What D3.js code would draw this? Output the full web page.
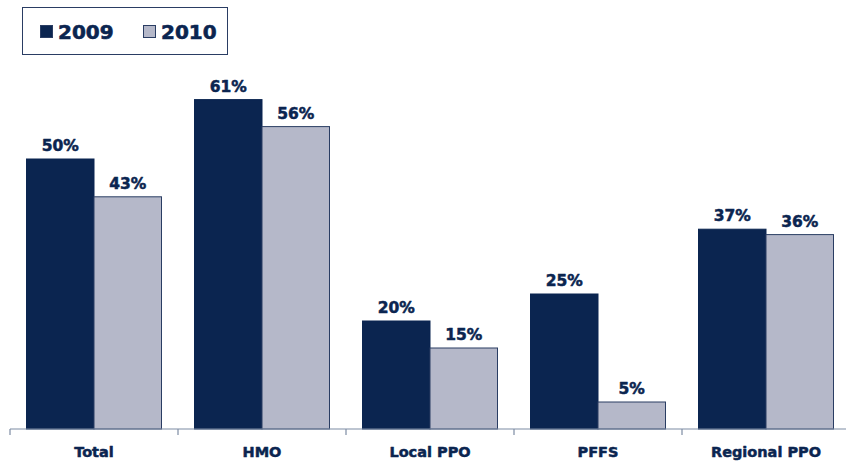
<!DOCTYPE html>
<html>
<head>
<meta charset="utf-8">
<script src="https://cdn.jsdelivr.net/npm/d3@7"></script>
<style>
  body { margin: 0; background: #fff; }
  svg { font-family: "DejaVu Sans", Verdana, sans-serif; font-weight: bold; }
  svg text { stroke-linejoin: round; }
</style>
</head>
<body>
<svg id="chart" width="846" height="466"></svg>
<script>
const categories = ["Total", "HMO", "Local PPO", "PFFS", "Regional PPO"];
const seriesNames = ["2009", "2010"];
const values2009 = [50, 61, 20, 25, 37];
const values2010 = [43, 56, 15, 5, 36];

const colors = { "2009": "#0b2550", "2010": "#b5b8c9" };
const textColor = "#0b2550";

const svg = d3.select("#chart");
const baseY = 429;

const x = d3.scaleBand().domain(categories).range([10, 850]).paddingInner(0).paddingOuter(0);
const xs = d3.scaleBand().domain(seriesNames).range([16.5, x.bandwidth() - 16.5]);
const y = d3.scaleLinear().domain([0, 70]).range([baseY, baseY - 5.4 * 70]);

const rows = categories.map((c, i) => ({ cat: c, vals: [
  { key: "2009", v: values2009[i] },
  { key: "2010", v: values2010[i] }
]}));

const groups = svg.selectAll("g.cat").data(rows).join("g")
  .attr("class", "cat")
  .attr("transform", d => `translate(${x(d.cat)},0)`);

groups.selectAll("rect").data(d => d.vals).join("rect")
  .attr("x", d => xs(d.key))
  .attr("y", d => y(d.v))
  .attr("width", xs.bandwidth())
  .attr("height", d => baseY - y(d.v))
  .attr("fill", d => colors[d.key])
  .attr("stroke", d => d.key === "2010" ? "#2a3d63" : "#0b2550")
  .attr("stroke-width", 1);

groups.selectAll("text.val").data(d => d.vals).join("text")
  .attr("class", "val")
  .attr("x", d => xs(d.key) + xs.bandwidth() / 2)
  .attr("y", d => y(d.v) - 8)
  .attr("text-anchor", "middle")
  .attr("font-size", 15.5)
  .attr("fill", textColor)
  .attr("stroke", textColor).attr("stroke-width", 0.5)
  .text(d => d.v + "%");

// x axis
const axis = svg.append("g").attr("transform", `translate(0,${baseY})`);
axis.append("line")
  .attr("x1", 10).attr("x2", 846)
  .attr("stroke", "#7d8ca3").attr("stroke-width", 1.2);
axis.selectAll("line.tick").data(categories.concat(["end"])).join("line")
  .attr("class", "tick")
  .attr("x1", (d, i) => 10 + i * x.bandwidth())
  .attr("x2", (d, i) => 10 + i * x.bandwidth())
  .attr("y1", 0).attr("y2", 6)
  .attr("stroke", "#7d8ca3").attr("stroke-width", 1.2);
axis.selectAll("text").data(categories).join("text")
  .attr("x", d => x(d) + x.bandwidth() / 2)
  .attr("y", 28)
  .attr("text-anchor", "middle")
  .attr("font-size", 14.5)
  .attr("fill", textColor)
  .attr("stroke", textColor).attr("stroke-width", 0.5)
  .text(d => d);

// legend
const legend = svg.append("g");
legend.append("rect")
  .attr("x", 22.5).attr("y", 7.5).attr("width", 205).attr("height", 47)
  .attr("fill", "#fff").attr("stroke", "#2a3d63").attr("stroke-width", 1);
const legItems = legend.selectAll("g").data(seriesNames).join("g")
  .attr("transform", (d, i) => `translate(${40 + i * 103},0)`);
legItems.append("rect")
  .attr("x", 0.5).attr("y", 25.5).attr("width", 12).attr("height", 12)
  .attr("fill", d => colors[d]).attr("stroke", "#2a3d63");
legItems.append("text")
  .attr("x", 18).attr("y", 39)
  .attr("font-size", 20)
  .attr("fill", textColor)
  .attr("stroke", textColor).attr("stroke-width", 0.6)
  .text(d => d);
</script>
</body>
</html>
